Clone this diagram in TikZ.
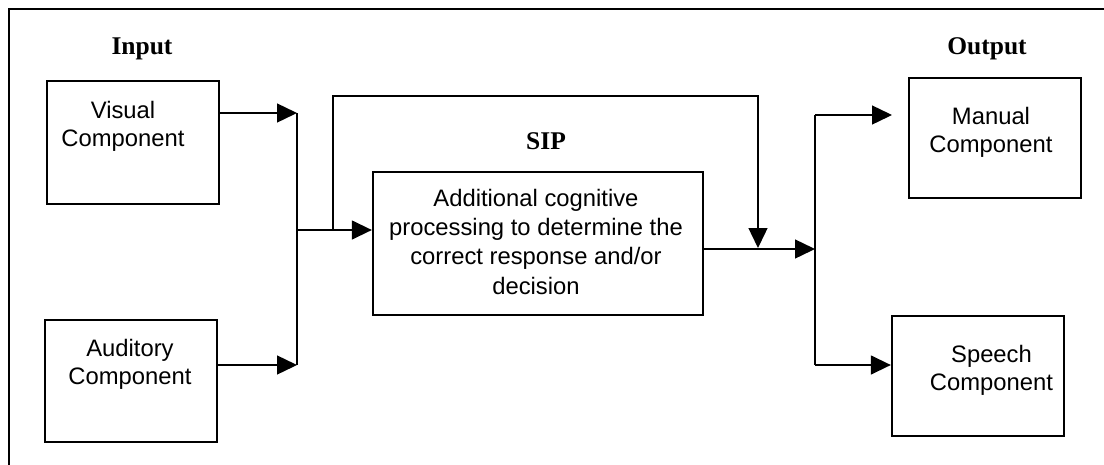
\documentclass[tikz,border=0pt]{standalone}
\usepackage{fontspec}
\setmainfont{Liberation Serif}
\newfontfamily\arialfont{Liberation Sans}
\usetikzlibrary{arrows.meta}
\tikzset{
  box/.style={draw, line width=2.3pt, inner sep=0pt},
  wire/.style={line width=1.4pt},
  arr/.style={wire, -{Triangle[length=20pt,width=19pt]}},
  boxtext/.style={inner sep=0pt, anchor=base, align=center,
    font=\arialfont\fontsize{23.8}{28}\selectfont},
  heading/.style={inner sep=0pt, anchor=base,
    font=\bfseries\fontsize{25.5}{30}\selectfont}
}
\begin{document}
\begin{tikzpicture}[x=1pt, y=-1pt]
\useasboundingbox (0,0) rectangle (1104,464);
\fill[white] (0,0) rectangle (1104,464);
\begin{scope}
\clip (0,0) rectangle (1104,464);
\draw[line width=1.5pt] (9,480) -- (9,9) -- (1120,9);
\end{scope}

% headings
\node[heading] (hin)  at (142,54)  {Input};
\node[heading] (hsip) at (546,149) {SIP};
\node[heading] (hout) at (987,54)  {Output};

% component boxes
\node[box, minimum width=172pt, minimum height=123pt] (visual)   at (133,142.5) {};
\node[box, minimum width=172pt, minimum height=122pt] (auditory) at (131,381)   {};
\node[box, minimum width=330pt, minimum height=143pt] (sip)      at (538,243.5) {};
\node[box, minimum width=172pt, minimum height=120pt] (manual)   at (995,138)   {};
\node[box, minimum width=172pt, minimum height=120pt] (speech)   at (978,376)   {};

% box texts (placed by the baseline of their last line)
\node[boxtext] (tvis) at (123,146) {Visual\\Component};
\node[boxtext] (taud) at (130,384) {Auditory\\Component};
\node[boxtext] (tman) at (991,152) {Manual\\Component};
\node[boxtext] (tspe) at (991.5,390) {Speech\\Component};
\node[boxtext, font=\arialfont\fontsize{23.8}{29.3}\selectfont] (tsip) at (536,294)
  {Additional cognitive\\processing to determine the\\correct response and/or\\decision};

% junction points
\coordinate (vin)  at (297,113);
\coordinate (ain)  at (297,365);
\coordinate (jin)  at (297,230);
\coordinate (byp)  at (333,230);
\coordinate (bypt) at (333,96);
\coordinate (bypr) at (758,96);
\coordinate (bype) at (758,248);
\coordinate (jout) at (815,249);
\coordinate (jtop) at (815,115);
\coordinate (jbot) at (815,365);
\coordinate (mtip) at (892,115);

% input side
\draw[arr] (visual.east |- vin) -- (vin);
\draw[arr] (auditory.east |- ain) -- (ain);
\draw[wire] (vin) -- (ain);
\draw[arr] (jin) -- (sip.west |- jin);

% bypass around the SIP stage
\draw[arr] (byp) -- (bypt) -- (bypr) -- (bype);

% output side
\draw[arr] (sip.east |- jout) -- (jout);
\draw[wire] (jtop) -- (jbot);
\draw[arr] (jtop) -- (mtip);
\draw[arr] (jbot) -- (speech.west |- jbot);
\end{tikzpicture}
\end{document}
